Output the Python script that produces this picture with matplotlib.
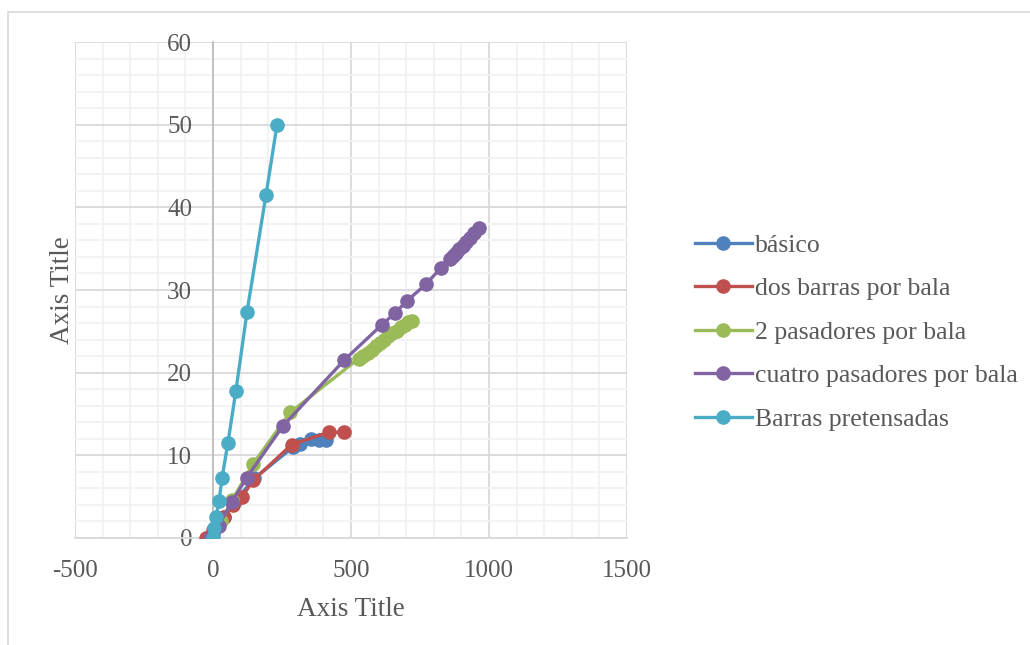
import numpy as np
import matplotlib.pyplot as plt
from matplotlib.patches import Rectangle
from matplotlib.ticker import MultipleLocator

plt.rcParams['font.family'] = ['Liberation Serif', 'DejaVu Serif']
plt.rcParams['axes.unicode_minus'] = False

# series: x (displacement) and y (load)
basico_x = [-20, 0, 40, 80, 150, 290, 315, 355, 385, 410]
basico_y = [0, 0.5, 2.5, 4.5, 7.2, 11.0, 11.4, 12.0, 11.9, 11.9]

dos_x = [-25, 0, 40, 74, 104, 146, 285, 420, 475]
dos_y = [0, 1.0, 2.5, 4.0, 4.9, 7.0, 11.3, 12.8, 12.8]

pas2_x = [-5, 30, 70, 146, 280, 528, 545, 560, 575, 590, 605, 620, 635, 650, 665, 680, 695, 708, 722]
pas2_y = [0, 2.0, 4.6, 9.0, 15.2, 21.7, 22.0, 22.4, 22.8, 23.2, 23.6, 24.0, 24.4, 24.8, 25.1, 25.5, 25.8, 26.1, 26.3]

pas4_x = [-10, 20, 69, 122, 252, 475, 612, 659, 703, 772, 826, 859, 870, 880, 893, 906, 918, 931, 945, 964]
pas4_y = [0, 1.5, 4.4, 7.3, 13.5, 21.5, 25.8, 27.2, 28.7, 30.7, 32.7, 33.7, 34.1, 34.5, 34.9, 35.3, 35.8, 36.3, 36.9, 37.5]

pret_x = [0, 5, 11, 22, 33, 54, 83, 123, 192, 232]
pret_y = [0, 1.2, 2.5, 4.5, 7.3, 11.5, 17.8, 27.3, 41.5, 50.0]

names = ['básico', 'dos barras por bala', '2 pasadores por bala',
         'cuatro pasadores por bala', 'Barras pretensadas']
colors = ['#4F81BD', '#C0504D', '#9BBB59', '#8064A2', '#4BACC6']

fig = plt.figure(figsize=(10.3, 6.45), dpi=100)
fig.patches.append(Rectangle((8 / 1030, -0.1), 1.2, 1 - 12 / 645 + 0.1,
                             transform=fig.transFigure, fill=False,
                             edgecolor='#d9d9d9', linewidth=1.2))
ax = fig.add_axes([75 / 1030, 1 - 538 / 645, 552 / 1030, 496 / 645])

series = [(basico_x, basico_y), (dos_x, dos_y), (pas2_x, pas2_y),
          (pas4_x, pas4_y), (pret_x, pret_y)]
for (xs, ys), name, c in zip(series, names, colors):
    ax.plot(xs, ys, color=c, lw=2.4, marker='o', ms=9.5, label=name, zorder=3)

ax.set_xlim(-500, 1500)
ax.set_ylim(0, 60)
ax.xaxis.set_major_locator(MultipleLocator(500))
ax.xaxis.set_minor_locator(MultipleLocator(100))
ax.yaxis.set_major_locator(MultipleLocator(10))
ax.yaxis.set_minor_locator(MultipleLocator(2))
ax.grid(which='minor', color='#f2f2f2', lw=1.3)
ax.grid(which='major', color='#d9d9d9', lw=1.3)
ax.set_axisbelow(True)

for s in ['top', 'right']:
    ax.spines[s].set_visible(False)
ax.spines['left'].set_position(('data', 0))
ax.spines['left'].set_color('#bfbfbf')
ax.spines['left'].set_linewidth(1.3)
ax.spines['bottom'].set_color('#d9d9d9')
ax.spines['bottom'].set_linewidth(1.3)
ax.tick_params(which='both', length=0, labelsize=18, colors='#595959')
ax.tick_params(axis='x', pad=16)
ax.tick_params(axis='y', pad=15)

ax.set_xlabel('Axis Title', fontsize=19.5, color='#595959')
ax.set_ylabel('Axis Title', fontsize=19.5, color='#595959')
ax.xaxis.set_label_coords(0.5, -0.118)
ax.yaxis.set_label_coords(0.0, 0.5)

leg = ax.legend(loc='center left', bbox_to_anchor=(1.1, 0.415), frameon=False,
                fontsize=18.5, labelspacing=0.8, handlelength=2.2,
                handletextpad=0.12, borderpad=0)
for t in leg.get_texts():
    t.set_color('#595959')

fig.savefig('out.png', dpi=100)
